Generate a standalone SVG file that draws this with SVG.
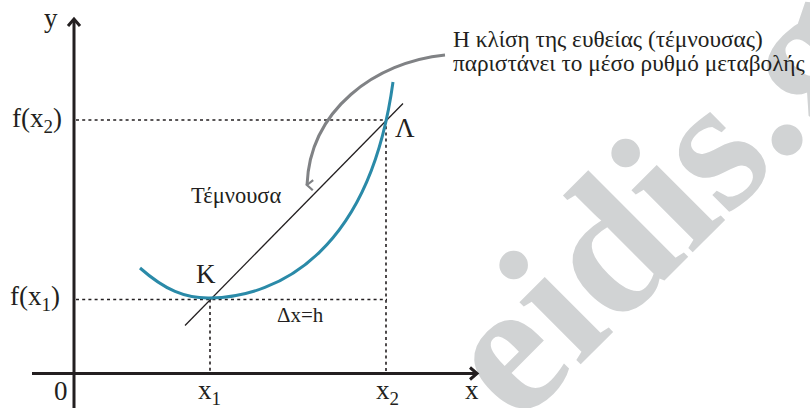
<svg xmlns="http://www.w3.org/2000/svg" width="810" height="408" viewBox="0 0 810 408">
<style>
.t{font-family:"Liberation Serif","DejaVu Serif","Times New Roman",serif;fill:#231f20}
.lbl{font-size:27px}
.sub{font-size:19px}
.sm{font-size:22.5px}
.dx{font-size:21px}
.ann{font-size:23.3px}
.ax{stroke:#231f20;stroke-width:3;fill:none}
.dot{stroke:#231f20;stroke-width:1.6;stroke-dasharray:3 3.2;fill:none}
.wm{font-family:"Liberation Serif","Times New Roman",serif;font-weight:bold;font-size:190px;fill:#d1d3d4}
</style>
<defs>
<marker id="gh" viewBox="0 0 12 12" refX="6" refY="10" markerWidth="12" markerHeight="12" markerUnits="userSpaceOnUse" orient="auto-start-reverse">
<path d="M1,4 L6,10 L11,4" fill="none" stroke="#808285" stroke-width="2.2"/>
</marker>
</defs>
<rect width="810" height="408" fill="#ffffff"/>
<g id="watermark">
<text class="wm" transform="translate(518,427) rotate(-45)">eidis.gr</text>
</g>
<g id="axes">
<line class="ax" x1="74" y1="20" x2="74" y2="408"/>
<polyline class="ax" stroke-width="2.4" points="68,26 74,19 80,26"/>
<line class="ax" x1="32" y1="373.5" x2="476" y2="373.5"/>
<polyline class="ax" stroke-width="2.4" points="470,367.5 477,373.5 470,379.5"/>
</g>
<g id="connectors">
<path class="dot" d="M76,120 H387"/>
<path class="dot" d="M76,299.5 H387"/>
<path class="dot" d="M210,299.5 V372"/>
<path class="dot" d="M386,120 V372"/>
<line x1="185" y1="325.5" x2="403" y2="103.5" stroke="#231f20" stroke-width="1.3"/>
<path d="M445,55 C375,62 310,110 307,185" fill="none" stroke="#808285" stroke-width="3" marker-end="url(#gh)"/>
</g>
<g id="curve">
<path d="M140,268 C165,290 185,298.5 210,298 C280,297 370,250 393,82" fill="none" stroke="#2a8aa8" stroke-width="3"/>
</g>
<g id="labels">
<text class="t lbl" x="44" y="27">y</text>
<text class="t lbl" x="12" y="127">f(x<tspan class="sub" dy="6">2</tspan><tspan dy="-6">)</tspan></text>
<text class="t lbl" x="10" y="305">f(x<tspan class="sub" dy="6">1</tspan><tspan dy="-6">)</tspan></text>
<text class="t lbl" x="54" y="400">0</text>
<text class="t lbl" x="198" y="399">x<tspan class="sub" dy="6">1</tspan></text>
<text class="t lbl" x="376" y="399">x<tspan class="sub" dy="6">2</tspan></text>
<text class="t lbl" x="465" y="399">x</text>
<text class="t lbl" x="196" y="283">K</text>
<text class="t lbl" x="395" y="137">Λ</text>
<text class="t sm" x="191" y="203">Τέμνουσα</text>
<text class="t dx" x="277" y="322">Δx=h</text>
<text class="t ann" x="453" y="47">Η κλίση της ευθείας (τέμνουσας)</text>
<text class="t ann" x="453" y="71">παριστάνει το μέσο ρυθμό μεταβολής</text>
</g>
</svg>
